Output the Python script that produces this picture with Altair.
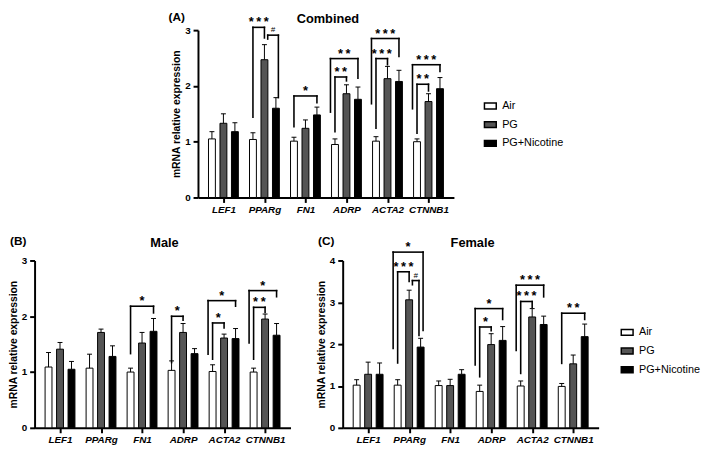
import json
import altair as alt
import pandas as pd

genes = ["LEF1", "PPARg", "FN1", "ADRP", "ACTA2", "CTNNB1"]
groups = ["Air", "PG", "PG+Nicotine"]
colors = ["#ffffff", "#555555", "#000000"]

# ---- Combined (A)
comb_air = [1.05, 1.04, 1.01, 0.95, 1.01, 1.00]
comb_air_err = [0.13, 0.12, 0.07, 0.10, 0.08, 0.05]
comb_pg = [1.33, 2.47, 1.24, 1.86, 2.13, 1.72]
comb_pg_err = [0.17, 0.27, 0.15, 0.16, 0.22, 0.14]
comb_pgn = [1.18, 1.60, 1.48, 1.76, 2.08, 1.95]
comb_pgn_err = [0.16, 0.19, 0.14, 0.22, 0.20, 0.20]

# ---- Male (B)
male_air = [1.09, 1.07, 1.00, 1.03, 1.01, 1.00]
male_air_err = [0.26, 0.25, 0.07, 0.17, 0.12, 0.07]
male_pg = [1.41, 1.71, 1.52, 1.71, 1.61, 1.95]
male_pg_err = [0.12, 0.06, 0.19, 0.16, 0.07, 0.09]
male_pgn = [1.05, 1.28, 1.73, 1.33, 1.60, 1.66]
male_pgn_err = [0.14, 0.19, 0.23, 0.09, 0.18, 0.21]

# ---- Female (C)
fem_air = [1.02, 1.02, 1.01, 0.87, 1.00, 0.99]
fem_air_err = [0.13, 0.13, 0.11, 0.15, 0.12, 0.07]
fem_pg = [1.28, 3.06, 1.01, 1.99, 2.65, 1.53]
fem_pg_err = [0.29, 0.23, 0.15, 0.26, 0.20, 0.21]
fem_pgn = [1.28, 1.93, 1.28, 2.09, 2.47, 2.18]
fem_pgn_err = [0.27, 0.21, 0.11, 0.33, 0.20, 0.30]

# significance brackets: (gene index, from group, to group, bracket level,
#                         left leg bottom, right leg bottom, label)
comb_brackets = [
    (1, 0, 1, 3.05, 1.44, 2.86, "***"),
    (1, 1, 2, 2.91, 2.84, 1.79, "#"),
    (2, 0, 2, 1.82, 1.27, 1.70, "*"),
    (3, 0, 2, 2.49, 1.53, 2.14, "**"),
    (3, 0, 1, 2.16, 1.18, 2.09, "**"),
    (4, 0, 2, 2.85, 1.68, 2.53, "***"),
    (4, 0, 1, 2.49, 1.24, 2.38, "***"),
    (5, 0, 2, 2.38, 1.59, 2.26, "***"),
    (5, 0, 1, 2.03, 1.15, 1.91, "**"),
]
male_brackets = [
    (2, 0, 2, 2.18, 1.33, 2.06, "*"),
    (3, 0, 1, 2.00, 1.17, 1.93, "*"),
    (4, 0, 2, 2.28, 1.32, 2.18, "*"),
    (4, 0, 1, 1.88, 1.23, 1.79, "*"),
    (5, 0, 2, 2.46, 1.52, 2.35, "*"),
    (5, 0, 1, 2.16, 1.23, 2.07, "**"),
]
fem_brackets = [
    (1, 0, 2, 4.20, 1.90, 2.33, "*"),
    (1, 0, 1, 3.73, 1.55, 3.50, "***"),
    (1, 1, 2, 3.52, 3.42, 2.21, "#"),
    (3, 0, 2, 2.85, 1.50, 2.59, "*"),
    (3, 0, 1, 2.41, 1.22, 2.32, "*"),
    (4, 0, 2, 3.41, 1.85, 3.13, "***"),
    (4, 0, 1, 3.02, 1.30, 2.88, "***"),
    (5, 0, 2, 2.74, 1.54, 2.59, "**"),
]

GAP = 0.28      # distance between bars of one gene, in gene units
CAP = 0.06      # half width of error caps
FONT = "Liberation Sans"
W = 260


def make_panel(vals, errs, brackets, ymax, height, title, tag, legend, tag_x, head_y):
    rows = []
    for gi, g in enumerate(genes):
        for gj, grp in enumerate(groups):
            rows.append(dict(gene=g, gi=gi, group=grp, gj=gj,
                             value=vals[gj][gi], err=errs[gj][gi]))
    df = pd.DataFrame(rows)

    brows = []
    for gi, a, b, level, lo1, lo2, lab in brackets:
        same = [br for br in brackets if br[0] == gi]
        has_inner = any(br[1] == 0 and br[2] == 1 for br in same)
        has_pgpgn = any(br[1] == 1 and br[2] == 2 for br in same)
        has_outer = any(br[1] == 0 and br[2] == 2 for br in same)
        n1 = n2 = 0.0
        if a == 0 and b == 2:
            if has_inner:
                n1 = -0.11
            if has_pgpgn:
                n2 = 0.06
        if a == 1 and b == 2:
            n1 = 0.08
            n2 = -0.04 if has_outer else 0.06
        x1 = gi + (a - 1) * GAP + n1
        x2 = gi + (b - 1) * GAP + n2
        brows.append(dict(x1=x1, x2=x2, mid=(x1 + x2) / 2, level=level,
                          low1=lo1, low2=lo2, label=lab,
                          shown="\u2009".join(lab)))
    bdf = pd.DataFrame(brows)

    xs = alt.Scale(domain=[-0.5, 5.5], nice=False, zero=False)
    ys = alt.Scale(domain=[0, ymax], nice=False, zero=True)

    xaxis = alt.Axis(values=list(range(6)), labelExpr=json.dumps(genes) + "[datum.value]",
                     grid=False, domainWidth=2, domainColor="black", tickWidth=2,
                     tickColor="black", tickSize=5, labelFontSize=10, labelFontWeight="bold",
                     labelFontStyle="italic", labelColor="black", labelPadding=2,
                     labelFont=FONT, title=None)
    yaxis = alt.Axis(values=list(range(ymax + 1)), grid=False, domainWidth=2,
                     domainColor="black", tickWidth=2, tickColor="black", tickSize=5,
                     labelFontSize=10, labelFontWeight="bold", labelColor="black",
                     labelPadding=3, labelFont=FONT, title="mRNA relative expression",
                     titleFontSize=10.5, titleFontWeight="bold", titleColor="black",
                     titlePadding=3, titleFont=FONT)

    def X(f):
        return alt.X(f, scale=xs, axis=xaxis)

    def Y(f):
        return alt.Y(f, scale=ys, axis=yaxis)

    if legend is None:
        leg = None
    else:
        leg = alt.Legend(orient="none", legendX=legend[0], legendY=legend[1], title=None,
                         symbolType="M-1,-0.5H1V0.5H-1Z", symbolSize=144,
                         symbolStrokeColor="black", symbolStrokeWidth=1.5,
                         labelFontSize=11, labelFont=FONT, labelColor="black",
                         rowPadding=6, labelOffset=5)

    base = alt.Chart(df).transform_calculate(
        pos=f"datum.gi + (datum.gj - 1) * {GAP}",
        top="datum.value + datum.err",
    ).transform_calculate(
        capl=f"datum.pos - {CAP}",
        capr=f"datum.pos + {CAP}",
    )

    bars = base.mark_bar(width=7, stroke="black", strokeWidth=1, orient="vertical").encode(
        x=X("pos:Q"),
        y=Y("value:Q"),
        y2=alt.datum(0),
        color=alt.Color("group:N", scale=alt.Scale(domain=groups, range=colors),
                        sort=groups, legend=leg),
    )
    errbar = base.mark_rule(color="black", strokeWidth=1).encode(
        x=X("pos:Q"), y=Y("value:Q"), y2="top:Q")
    caps = base.mark_rule(color="black", strokeWidth=1).encode(
        x=X("capl:Q"), x2="capr:Q", y=Y("top:Q"))

    br = alt.Chart(bdf)
    rk = dict(color="black", strokeWidth=1.6, strokeCap="square")
    leg_l = br.mark_rule(**rk).encode(x=X("x1:Q"), y=Y("low1:Q"), y2="level:Q")
    leg_r = br.mark_rule(**rk).encode(x=X("x2:Q"), y=Y("low2:Q"), y2="level:Q")
    bar_top = br.mark_rule(**rk).encode(x=X("x1:Q"), x2="x2:Q", y=Y("level:Q"))
    stars = br.transform_filter("datum.label != '#'").mark_text(
        fontSize=13, fontWeight="bold", baseline="alphabetic", dy=-1, font=FONT,
        color="black").encode(x=X("mid:Q"), y=Y("level:Q"), text="shown:N")
    hashes = br.transform_filter("datum.label == '#'").mark_text(
        fontSize=8, fontStyle="italic", baseline="alphabetic", dy=-3, font=FONT,
        color="black").encode(x=X("mid:Q"), y=Y("level:Q"), text="shown:N")

    ttl = alt.Chart(pd.DataFrame({"t": [title]})).mark_text(
        fontSize=13, fontWeight="bold", font=FONT, baseline="middle", align="center",
        color="black").encode(text="t:N", x=alt.value(W / 2 + 2), y=alt.value(head_y + 2))
    tg = alt.Chart(pd.DataFrame({"t": [tag]})).mark_text(
        fontSize=12, fontWeight="bold", font=FONT, baseline="middle", align="left",
        color="black").encode(text="t:N", x=alt.value(tag_x), y=alt.value(head_y))

    return alt.layer(bars, errbar, caps, leg_l, leg_r, bar_top, stars, hashes, ttl, tg).properties(
        width=W, height=height)


panel_a = make_panel([comb_air, comb_pg, comb_pgn], [comb_air_err, comb_pg_err, comb_pgn_err],
                     comb_brackets, 3, 170, "Combined", "(A)", (290, 70), -30, -13)
panel_b = make_panel([male_air, male_pg, male_pgn], [male_air_err, male_pg_err, male_pgn_err],
                     male_brackets, 3, 170, "Male", "(B)", None, -25, -20)
panel_c = make_panel([fem_air, fem_pg, fem_pgn], [fem_air_err, fem_pg_err, fem_pgn_err],
                     fem_brackets, 4, 170, "Female", "(C)", (282, 66), -25, -20)

spacer = alt.Chart(pd.DataFrame({"v": [0]})).mark_point(opacity=0).encode(
    x=alt.value(0), y=alt.value(0)).properties(width=136, height=10)

top_row = alt.hconcat(spacer, panel_a, spacing=0).resolve_scale(
    color="independent").resolve_legend(color="independent")
bottom_row = alt.hconcat(panel_b, panel_c, spacing=26).resolve_scale(
    color="independent").resolve_legend(color="independent")

chart = alt.vconcat(top_row, bottom_row, spacing=21).resolve_scale(
    color="independent").resolve_legend(color="independent").properties(
    padding={"left": 0, "top": 0, "right": 0, "bottom": 0}
).configure(font=FONT).configure_view(strokeWidth=0, stroke="transparent")

chart.save("out.html", embed_options={"renderer": "svg", "actions": False})
